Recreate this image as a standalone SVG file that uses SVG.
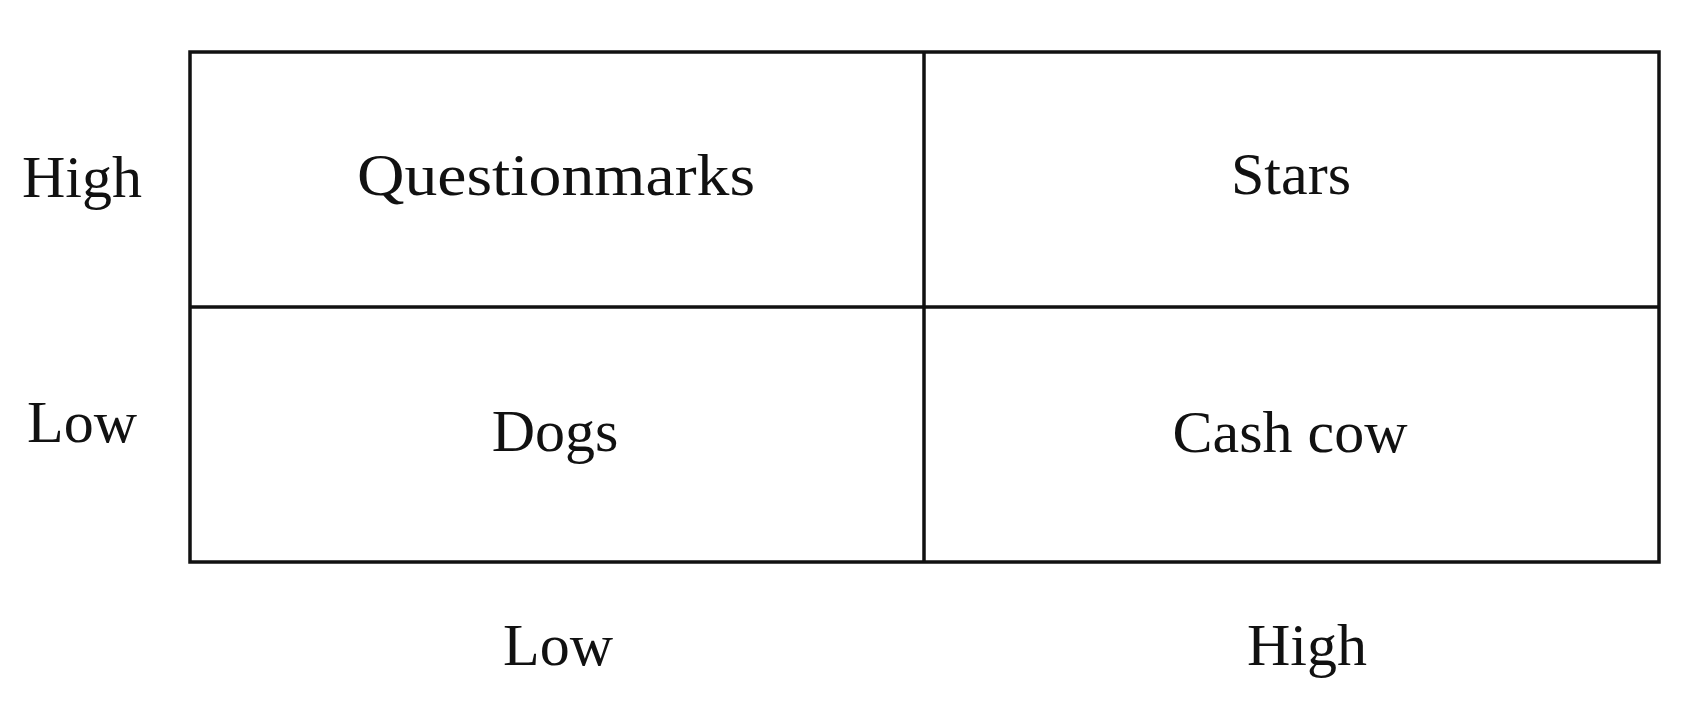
<svg xmlns="http://www.w3.org/2000/svg" width="1695" height="705" viewBox="0 0 1695 705">
<style>
text{font-family:"Liberation Serif","Times New Roman",serif;font-size:60px;fill:#111;text-anchor:middle}
.ln{stroke:#111;stroke-width:3.5;fill:none}
</style>
<rect width="1695" height="705" fill="#fff"/>
<g id="connectors">
<rect class="ln" x="190" y="52" width="1469" height="510"/>
<line class="ln" x1="924" y1="52" x2="924" y2="562"/>
<line class="ln" x1="190" y1="307" x2="1659" y2="307"/>
</g>
<g id="axis-y-high"><text x="82" y="197">High</text></g>
<g id="axis-y-low"><text x="82" y="442">Low</text></g>
<g id="axis-x-low"><text x="558" y="665">Low</text></g>
<g id="axis-x-high"><text x="1307" y="665">High</text></g>
<g id="question-marks"><text x="556" y="195" textLength="398" lengthAdjust="spacingAndGlyphs">Questionmarks</text></g>
<g id="stars"><text x="1291" y="194">Stars</text></g>
<g id="dogs"><text x="555" y="451">Dogs</text></g>
<g id="cash-cow"><text x="1290" y="452">Cash cow</text></g>
</svg>
